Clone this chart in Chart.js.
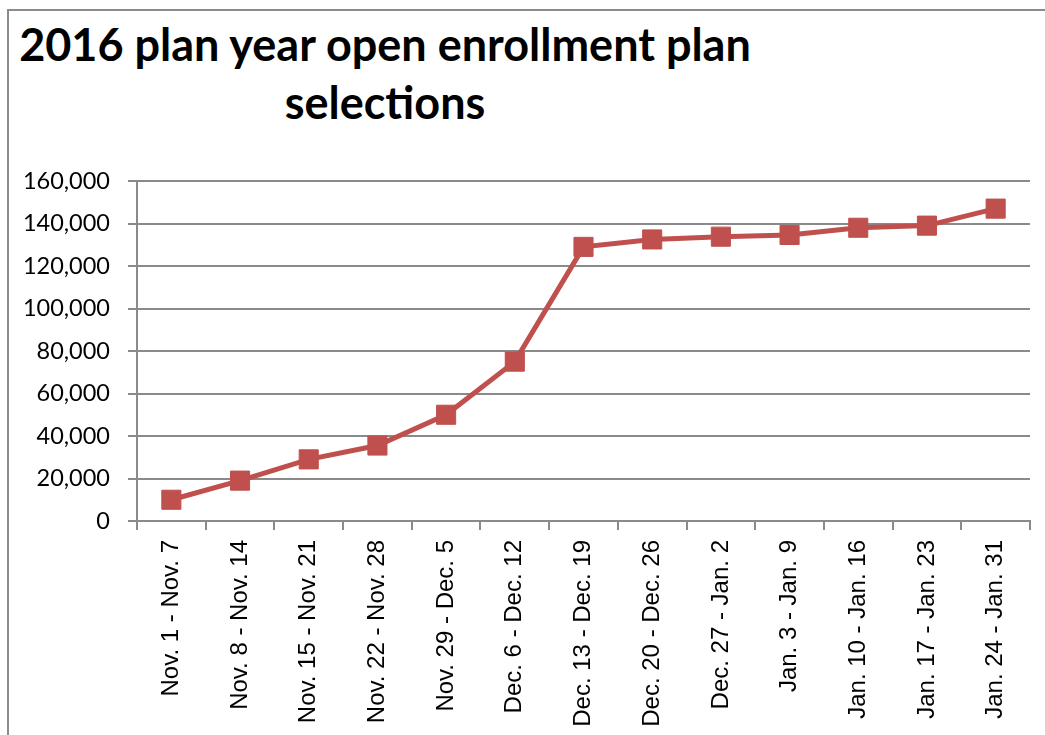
<!DOCTYPE html>
<html>
<head>
<meta charset="utf-8">
<script src="https://cdn.jsdelivr.net/npm/chart.js@4"></script>
<style>
  html, body { margin: 0; padding: 0; background: #fff; }
  #wrap { position: relative; width: 1045px; height: 735px; overflow: hidden; }
  #frame {
    position: absolute; left: 7px; top: 9px; width: 1100px; height: 800px;
    border-left: 2px solid #8c8c8c; border-top: 2px solid #8c8c8c;
  }
  #title {
    position: absolute; left: 0; top: 15px; width: 770px; text-align: center;
    font-family: Lato, sans-serif; font-weight: bold; font-size: 45px;
    line-height: 58px; color: #000;
  }
  canvas { position: absolute; left: 0; top: 0; }
</style>
</head>
<body>
<div id="wrap">
  <div id="frame"></div>
  <div id="title">2016 plan year open enrollment plan<br>selections</div>
  <canvas id="chart" width="1045" height="735"></canvas>
</div>
<script>
const weeks = [
  'Nov. 1 - Nov. 7', 'Nov. 8 - Nov. 14', 'Nov. 15 - Nov. 21', 'Nov. 22 - Nov. 28',
  'Nov. 29 - Dec. 5', 'Dec. 6 - Dec. 12', 'Dec. 13 - Dec. 19', 'Dec. 20 - Dec. 26',
  'Dec. 27 - Jan. 2', 'Jan. 3 - Jan. 9', 'Jan. 10 - Jan. 16', 'Jan. 17 - Jan. 23',
  'Jan. 24 - Jan. 31'
];
const selections = [
  10000, 19000, 29000, 35500, 50000, 75000, 129000,
  132500, 133800, 134600, 138000, 139000, 147000
];
const yMax = 160000;
const yStep = 20000;

const gridGray = '#8a8a8a';

new Chart(document.getElementById('chart'), {
  type: 'line',
  data: {
    labels: weeks,
    datasets: [{
      label: 'Plan selections',
      data: selections,
      borderColor: '#C0504D',
      backgroundColor: '#C0504D',
      borderWidth: 5,
      pointStyle: 'rect',
      pointRadius: 13.5,
      pointBorderWidth: 1,
      pointBorderColor: '#C0504D',
      pointBackgroundColor: '#C0504D',
      tension: 0,
    }]
  },
  options: {
    responsive: false,
    devicePixelRatio: 1,
    animation: false,
    layout: { padding: { top: 181, right: 15, left: 0, bottom: 0 } },
    plugins: {
      legend: { display: false },
      tooltip: { enabled: false },
    },
    scales: {
      x: {
        offset: true,
        grid: {
          offset: true,
          drawOnChartArea: false,
          drawTicks: true,
          tickLength: 9,
          color: gridGray,
          lineWidth: 2,
        },
        border: { color: gridGray, width: 2 },
        ticks: {
          minRotation: 90,
          maxRotation: 90,
          autoSkip: false,
          padding: 10,
          color: '#000',
          font: { family: '"Liberation Sans", Arial, sans-serif', size: 24 },
        },
        afterFit: s => { s.height = 214; },
      },
      y: {
        min: 0,
        max: yMax,
        ticks: {
          stepSize: yStep,
          padding: 18,
          color: '#000',
          font: { family: 'Lato, sans-serif', size: 23.5 },
          callback: v => v.toLocaleString('en-US'),
        },
        grid: { color: gridGray, lineWidth: 2, tickLength: 9 },
        border: { color: gridGray, width: 2 },
        afterFit: s => { s.width = 137; },
      }
    }
  }
});
</script>
</body>
</html>
